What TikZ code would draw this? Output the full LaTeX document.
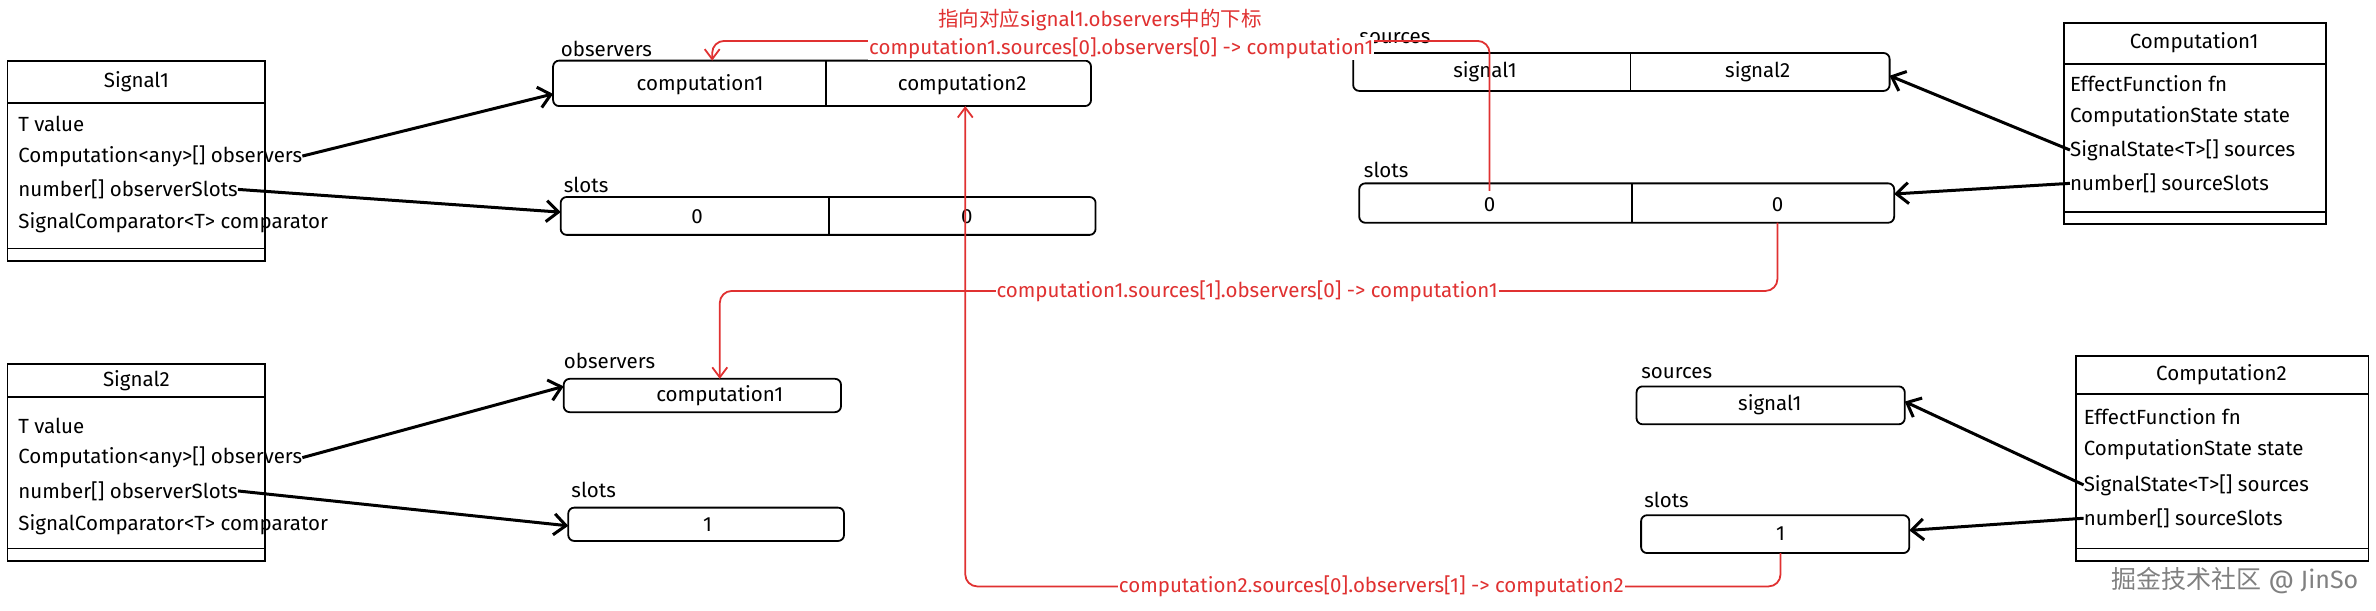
\documentclass[tikz,border=0pt]{standalone}
\usepackage{fontspec}
\setmainfont{Fira Sans}
\newfontfamily\cjk{Noto Sans CJK SC}
\definecolor{rd}{RGB}{224,49,49}
\usetikzlibrary{arrows.meta}
\begin{document}
\begin{tikzpicture}[x=1.515pt,y=-1.515pt,
  box/.style={draw,line width=1.8pt,rounded corners=6pt},
  cls/.style={draw,line width=1.8pt},
  t/.style={font=\fontsize{20.5}{24}\selectfont,inner sep=0pt},
  lt/.style={t,anchor=west},
  blk/.style={line width=3pt,-{Straight Barb[length=12pt,width=21pt]}},
  red/.style={draw=rd,line width=1.8pt,rounded corners=12pt,-{Straight Barb[length=10pt,width=15pt]}},
  rt/.style={t,text=rd,fill=white,inner sep=1pt}]
\useasboundingbox (0,0) rectangle (1568,403);
% Signal1
\draw[cls] (5,40) rectangle (175,172); \draw[cls] (5,68)--(175,68); \draw[cls] (5,164)--(175,164);
\node[t] (s1t) at (90,54) {Signal1};
\node[lt] (s1a) at (12,82) {T value};
\node[lt] (s1b) at (12,103) {Computation<any>[] observers};
\node[lt] (s1c) at (12,125) {number[] observerSlots};
\node[lt] (s1d) at (12,147) {SignalComparator<T> comparator};
% Signal2
\draw[cls] (5,240) rectangle (175,370); \draw[cls] (5,262)--(175,262); \draw[cls] (5,362)--(175,362);
\node[t] (s2t) at (90,251) {Signal2};
\node[lt] (s2a) at (12,281) {T value};
\node[lt] (s2b) at (12,302) {Computation<any>[] observers};
\node[lt] (s2c) at (12,324) {number[] observerSlots};
\node[lt] (s2d) at (12,346) {SignalComparator<T> comparator};
% Computation1
\draw[cls] (1362,15) rectangle (1535,148); \draw[cls] (1362,42)--(1535,42); \draw[cls] (1362,140)--(1535,140);
\node[t] (c1t) at (1448,28) {Computation1};
\node[lt] (c1a) at (1366,55) {EffectFunction fn};
\node[lt] (c1b) at (1366,77) {ComputationState state};
\node[lt] (c1c) at (1366,99) {SignalState<T>[] sources};
\node[lt] (c1d) at (1366,121) {number[] sourceSlots};
% Computation2
\draw[cls] (1370,235) rectangle (1563,370); \draw[cls] (1370,260)--(1563,260); \draw[cls] (1370,362)--(1563,362);
\node[t] (c2t) at (1466,247) {Computation2};
\node[lt] (c2a) at (1375,275) {EffectFunction fn};
\node[lt] (c2b) at (1375,297) {ComputationState state};
\node[lt] (c2c) at (1375,320) {SignalState<T>[] sources};
\node[lt] (c2d) at (1375,342) {number[] sourceSlots};
% arrays
\node[lt] at (370,32) {observers};
\draw[box] (365,40) rectangle (720,70); \draw[line width=1.5pt] (545,40)--(545,70);
\node[t] (o1a) at (462,56) {computation1}; \node[t] (o1b) at (635,56) {computation2};
\coordinate (o1) at (365,62); \coordinate (o1bb) at (637,70); \coordinate (o1at) at (470,40);
\node[lt] at (372,122) {slots};
\draw[box] (370,130) rectangle (723,155); \draw[line width=1.5pt] (547,130)--(547,155);
\node[t] (sl1a) at (460,143) {0}; \node[t] (sl1b) at (638,143) {0};
\coordinate (sl1) at (370,140);
\node[lt] at (897,25) {sources};
\draw[box] (893,35) rectangle (1247,60); \draw[line width=1.5pt] (1076,35)--(1076,60);
\node[t] at (980,47) {signal1}; \node[t] at (1160,47) {signal2};
\coordinate (src1) at (1247,50);
\node[lt] at (900,112) {slots};
\draw[box] (897,121) rectangle (1250,147); \draw[line width=1.5pt] (1077,121)--(1077,147);
\node[t] (sl2a) at (983,135) {0}; \node[t] (sl2b) at (1173,135) {0};
\coordinate (sl2) at (1250,128); \coordinate (sl2at) at (983,126); \coordinate (sl2bt) at (1173,147);
\node[lt] at (372,238) {observers};
\draw[box] (372,250) rectangle (555,272);
\node[t] at (475,261) {computation1};
\coordinate (o3) at (372,255); \coordinate (o3t) at (475,250);
\node[lt] at (377,323) {slots};
\draw[box] (375,335) rectangle (557,357);
\node[t] at (467,346) {1};
\coordinate (sl3) at (375,347);
\node[lt] at (1083,246) {sources};
\draw[box] (1080,255) rectangle (1257,280);
\node[t] at (1168,267) {signal1};
\coordinate (src2) at (1257,265);
\node[lt] at (1085,330) {slots};
\draw[box] (1083,340) rectangle (1260,365);
\node[t] at (1175,352) {1};
\coordinate (sl4) at (1260,350); \coordinate (sl4t) at (1175,365);
% black arrows
\draw[blk] (s1b.east) -- (o1);
\draw[blk] (s1c.east) -- (sl1);
\draw[blk] (s2b.east) -- (o3);
\draw[blk] (s2c.east) -- (sl3);
\draw[blk] (c1c.west) -- (src1);
\draw[blk] (c1d.west) -- (sl2);
\draw[blk] (c2c.west) -- (src2);
\draw[blk] (c2d.west) -- (sl4);
% red
\draw[red] (sl2at) -- (983,27) -- (470,27) -- (o1at);
\node[rt] (r1) at (740,32) {computation1.sources[0].observers[0] -> computation1};
\node[t,text=rd] (r0) at (726,13) {{\cjk 指向对应}signal1.observers{\cjk 中的下标}};
\draw[red] (sl2bt) -- (1173,192) -- (475,192) -- (o3t);
\node[rt] (r2) at (823,192) {computation1.sources[1].observers[0] -> computation1};
\draw[red] (sl4t) -- (1175,387) -- (637,387) -- (o1bb);
\node[rt] (r3) at (905,387) {computation2.sources[0].observers[1] -> computation2};
\node[t,text=gray,font=\fontsize{25}{28}\selectfont] (wm) at (1475,580/1.515) {{\cjk 掘金技术社区} @ JinSo};
\end{tikzpicture}
\end{document}
